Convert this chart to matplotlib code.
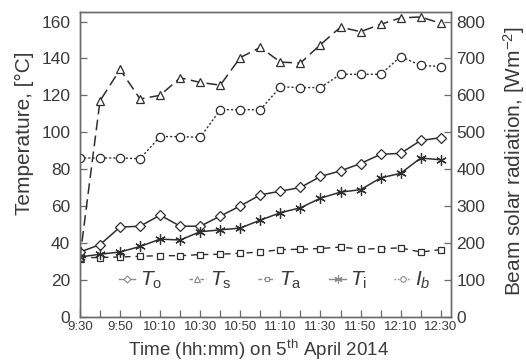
import matplotlib
matplotlib.use("Agg")
import matplotlib.pyplot as plt
from matplotlib.lines import Line2D

plt.rcParams['font.family'] = ['Liberation Sans', 'DejaVu Sans']
plt.rcParams['mathtext.fontset'] = 'custom'
plt.rcParams['mathtext.rm'] = 'Liberation Sans'
plt.rcParams['mathtext.it'] = 'Liberation Sans:italic'
plt.rcParams['mathtext.bf'] = 'Liberation Sans:bold'

# ---- data ----
times = ["9:30", "9:40", "9:50", "10:00", "10:10", "10:20", "10:30", "10:40", "10:50",
         "11:00", "11:10", "11:20", "11:30", "11:40", "11:50", "12:00", "12:10", "12:20", "12:30"]
T_o = [35, 39, 48.5, 49, 55, 49, 49, 54.5, 60, 66, 68, 70, 76, 79, 83, 88, 88.5, 95.5, 97]
T_s = [32, 117, 134, 118, 120, 129.5, 127, 125.5, 140.5, 146, 138, 137.5, 147.5, 157, 154.5, 158.5, 162, 162.5, 159]
T_a = [32, 32, 32.3, 32.7, 33, 33, 33.6, 33.8, 34.3, 35, 36.3, 36.5, 36.9, 37.7, 36.5, 36.9, 37.2, 35, 36.3]
T_i = [32.3, 33.8, 35, 38, 42, 41.5, 46, 47, 48, 52.3, 56.3, 59, 64.2, 67.5, 68.8, 75.2, 77.7, 86, 85]
I_b = [430, 430, 430, 428, 488, 488, 486, 561, 561, 561, 623, 621, 621, 657, 657, 657, 705, 681, 678]
tick_labels = ["9:30", "9:50", "10:10", "10:30", "10:50", "11:10", "11:30", "11:50", "12:10", "12:30"]

def to_min(s):
    h, m = s.split(":")
    return int(h) * 60 + int(m)

x = [to_min(t) - to_min("9:30") for t in times]
xt_major = [to_min(t) - to_min("9:30") for t in tick_labels]

line_c = '#2e2e2e'
txt_c = '#3a3a3a'
spine_c = '#6a6a6a'

W, H = 526, 363
fig = plt.figure(figsize=(W / 100, H / 100), dpi=100)
ax = fig.add_axes([0.152, 0.128, 0.705, 0.838])
ax2 = ax.twinx()

mk = dict(markerfacecolor='white', markeredgecolor=line_c, markeredgewidth=0.9)
ax.plot(x, T_o, color=line_c, lw=1.1, marker='D', markersize=5, **mk)
ax.plot(x, T_s, color=line_c, lw=1.1, marker='^', markersize=6, dashes=(7, 3.5), **mk)
ax.plot(x, T_a, color=line_c, lw=1.0, marker='s', markersize=4.5, dashes=(4.5, 3.5), **mk)
ax.plot(x, T_i, color=line_c, lw=1.1, marker=(6, 2, 0), markersize=7.5, markeredgecolor=line_c, markeredgewidth=0.9)
ax2.plot(x, I_b, color=line_c, lw=1.0, marker='o', markersize=6, dashes=(1.5, 1.5), **mk)

ax.set_xlim(0, 185)
ax.set_ylim(0, 165)
ax2.set_ylim(0, 825)

ax.set_xticks(xt_major)
ax.set_xticklabels(tick_labels)
ax.set_xticks(list(range(0, 181, 10)), minor=True)
ax.set_yticks(range(0, 161, 20))
ax2.set_yticks(range(0, 801, 100))

ax.tick_params(axis='x', which='both', direction='in', length=5, width=0.9, color=spine_c,
               labelsize=9.5, labelcolor=txt_c, pad=3.5)
ax.tick_params(axis='y', direction='in', length=5, width=0.9, color=spine_c,
               labelsize=12.5, labelcolor=txt_c, pad=7)
ax2.tick_params(axis='y', direction='in', length=5, width=0.9, color=spine_c,
                labelsize=12.5, labelcolor=txt_c, pad=4)

for a in (ax, ax2):
    for s in a.spines.values():
        s.set_color(spine_c)
        s.set_linewidth(1.0)

fig.text(24 / W, 1 - 133 / H, "Temperature, [°C]", rotation=90, ha='center', va='center',
         fontsize=15, color=txt_c)
fig.text(514 / W, 1 - 161 / H, r"Beam solar radiation, [Wm$^{-2}$]", rotation=90,
         ha='center', va='center', fontsize=15, color=txt_c)
fig.text(259 / W, 1 - 356 / H, r"Time (hh:mm) on 5$^{\mathrm{th}}$ April 2014", ha='center',
         va='baseline', fontsize=13.5, color=txt_c)

leg_c = '#8a8a8a'
lmk = dict(markerfacecolor='white', markeredgecolor=leg_c, markeredgewidth=0.8, color=leg_c, lw=1.0)
handles = [
    Line2D([], [], marker='D', markersize=3.5, **lmk),
    Line2D([], [], marker='^', markersize=4, dashes=(2.5, 1.5), **lmk),
    Line2D([], [], marker='s', markersize=3.5, dashes=(2.5, 1.5), **lmk),
    Line2D([], [], marker=(6, 2, 0), markersize=6, **lmk),
    Line2D([], [], marker='o', markersize=4, dashes=(1.2, 1.2), **lmk),
]
labels = [r"$T_{\mathrm{o}}$", r"$T_{\mathrm{s}}$", r"$T_{\mathrm{a}}$", r"$T_{\mathrm{i}}$", r"$I_{b}$"]
leg = ax2.legend(handles, labels, loc='lower center', bbox_to_anchor=(0.525, 0.035), ncol=5,
                 frameon=False, fontsize=15, handlelength=0.8, handletextpad=0.2,
                 columnspacing=1.3, labelcolor=txt_c, borderpad=0.2)

fig.savefig("out.png", dpi=100)
